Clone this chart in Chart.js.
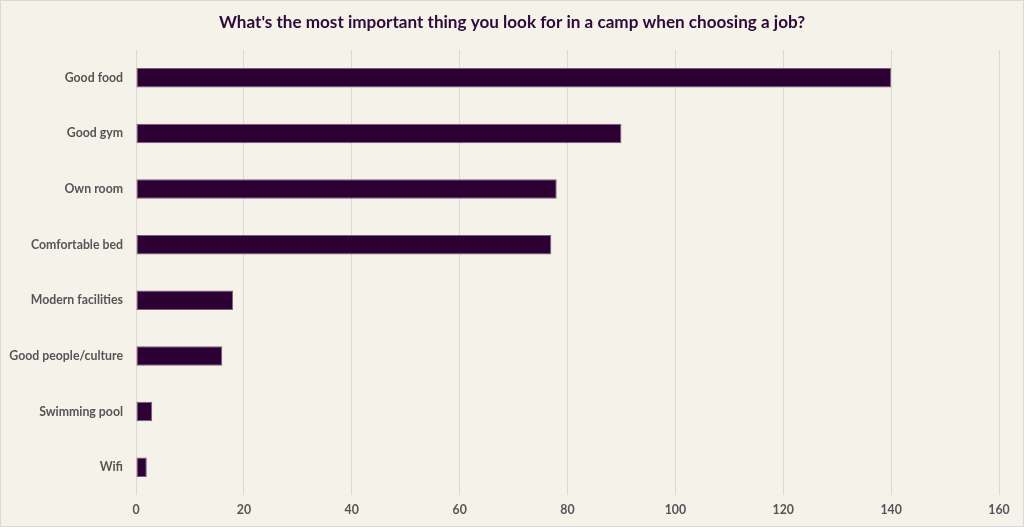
<!DOCTYPE html>
<html><head><meta charset="utf-8">
<script src="https://cdn.jsdelivr.net/npm/chart.js@4"></script>
<style>
html,body{margin:0;padding:0;background:#fff;}
#wrap{position:absolute;left:0;top:0;width:1024px;height:527px;box-sizing:border-box;border:1px solid #d9d9d9;background:#f5f2ea;}
canvas{display:block;}
</style></head><body>
<div id="wrap"><canvas id="c" width="1022" height="525"></canvas></div>
<script>
const titleText = "What's the most important thing you look for in a camp when choosing a job?";
const categories = ["Good food","Good gym","Own room","Comfortable bed","Modern facilities","Good people/culture","Swimming pool","Wifi"];
const responses = [140, 90, 78, 77, 18, 16, 3, 2];
const xTicks = [0,20,40,60,80,100,120,140,160];

const FONT = "Lato, 'Open Sans', sans-serif";
new Chart(document.getElementById('c'), {
  type: 'bar',
  data: { labels: categories, datasets: [{ data: responses, backgroundColor: '#2d0033', borderColor: '#7d5c80', borderWidth: 1, borderSkipped: false, barPercentage: 0.35, categoryPercentage: 1.0 }] },
  options: {
    indexAxis: 'y', responsive: false, animation: false, devicePixelRatio: 1,
    layout: { padding: { left: 0, right: 0, top: 0, bottom: 0 } },
    plugins: {
      legend: { display: false }, tooltip: { enabled: false },
      title: { display: true, text: titleText, color: '#2d0a3a', font: { family: FONT, size: 17.1, weight: 'bold' }, padding: { top: 11, bottom: 17.5 } }
    },
    scales: {
      x: { min: 0, max: 160, afterBuildTicks: s => { s.ticks = xTicks.map(v => ({ value: v })); },
        grid: { color: '#dcd9d2', drawTicks: false, lineWidth: 1 }, border: { display: false },
        ticks: { color: '#555555', padding: 8, font: { family: FONT, size: 12.3, weight: 'bold' } },
        afterFit: s => { s.height = 31; } },
      y: { grid: { display: false }, border: { display: false },
        ticks: { color: '#555555', padding: 5, font: { family: FONT, size: 12.3, weight: 'bold' } },
        afterFit: s => { s.width = 135; } },
      yRight: { type: 'category', position: 'right', labels: categories, grid: { display: false }, border: { display: false },
        ticks: { display: false }, afterFit: s => { s.width = 24; } }
    }
  }
});
</script></body></html>
